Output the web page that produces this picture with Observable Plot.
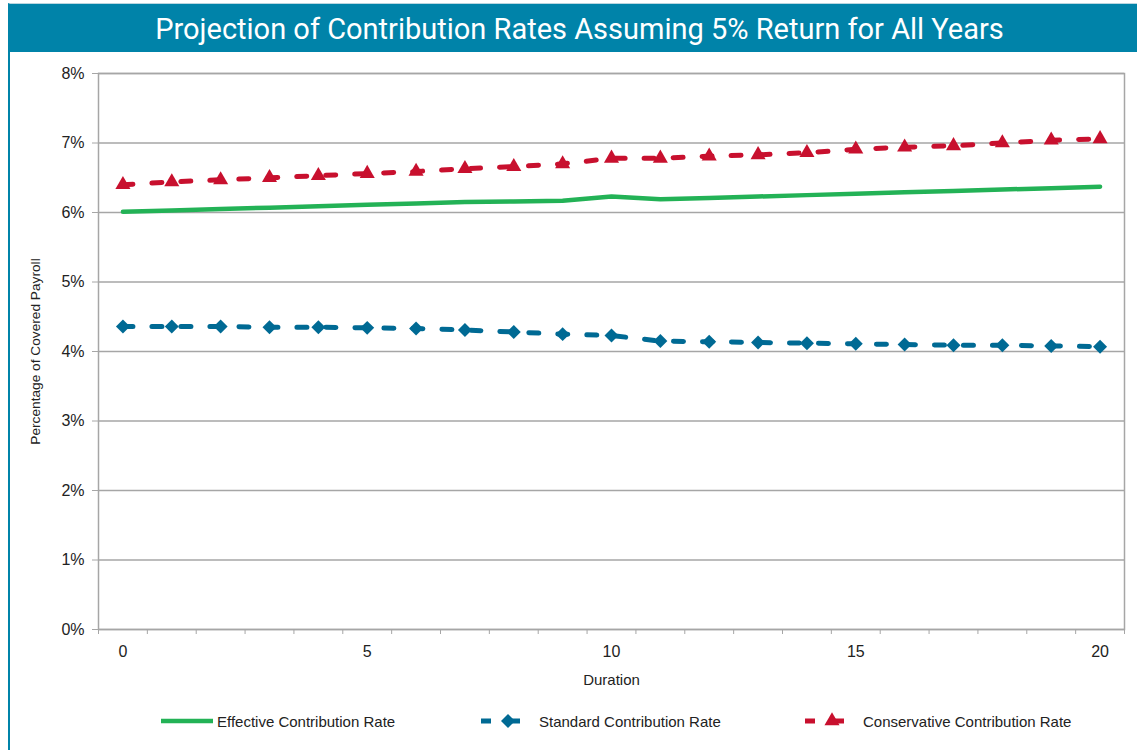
<!DOCTYPE html>
<html><head><meta charset="utf-8">
<script src="https://cdn.jsdelivr.net/npm/d3@7"></script>
<script src="https://cdn.jsdelivr.net/npm/@observablehq/plot@0.6"></script>
<style>
body{margin:0;background:#fff;width:1137px;height:750px;overflow:hidden;position:relative;font-family:"Liberation Sans Narrow","Arial Narrow","Liberation Sans",sans-serif;}
#frame{position:absolute;left:8px;top:3px;width:1129px;height:747px;border-left:2px solid #0083a9;border-top:1px solid #b9d6e0;box-sizing:border-box;}
#title{position:absolute;left:8px;top:4px;width:1129px;height:48px;background:#0083a9;color:#fff;font:400 29px Roboto;letter-spacing:0px;text-align:center;line-height:50px;padding-left:14px;box-sizing:border-box;}
#chart{position:absolute;left:0;top:52px;}
#legend{position:absolute;left:0;top:700px;width:1137px;height:50px;font-size:15px;color:#222;}
.item{position:absolute;top:10px;height:22px;display:flex;align-items:center;white-space:nowrap;}
</style></head>
<body>
<div id="frame"></div>
<div id="title">Projection of Contribution Rates Assuming 5% Return for All Years</div>
<div id="chart"></div>
<div id="legend"></div>
<script>
const durations = d3.range(0, 21);
const effective = [6.01,6.03,6.05,6.07,6.09,6.11,6.13,6.15,6.16,6.17,6.23,6.19,6.21,6.23,6.25,6.27,6.29,6.31,6.33,6.35,6.37];
const standard = [4.36,4.36,4.36,4.35,4.35,4.34,4.33,4.31,4.28,4.25,4.23,4.15,4.14,4.13,4.12,4.11,4.10,4.09,4.09,4.08,4.07];
const conservative = [6.40,6.44,6.47,6.50,6.53,6.56,6.59,6.63,6.66,6.70,6.78,6.78,6.81,6.83,6.86,6.91,6.94,6.96,7.00,7.04,7.06];
const seriesNames = ["Effective Contribution Rate","Standard Contribution Rate","Conservative Contribution Rate"];
const seriesColors = ["#23b256","#006a94","#c8102e"];
const yTicks = [0,1,2,3,4,5,6,7,8];
const xTickLabels = [0,5,10,15,20];

const rows = [];
[effective, standard, conservative].forEach((arr, k) => {
  durations.forEach((d, i) => rows.push({dur: d, v: arr[i], s: seriesNames[k]}));
});
const of = name => rows.filter(r => r.s === name);
const fontStack = '"Liberation Sans Narrow","Arial Narrow","Liberation Sans",sans-serif';

const chart = Plot.plot({
  width: 1137, height: 648,
  marginLeft: 98, marginRight: 13, marginTop: 21, marginBottom: 71,
  x: {domain: [-0.5, 20.5]},
  y: {domain: [0, 8]},
  color: {domain: seriesNames, range: seriesColors},
  style: {fontFamily: fontStack, fontSize: "16px", color: "#222", background: "transparent"},
  marks: [
    Plot.gridY(yTicks, {stroke: "#a6a6a6", strokeOpacity: 1, strokeWidth: 1.3}),
    Plot.frame({stroke: "#a6a6a6", strokeWidth: 1.5}),
    Plot.axisY(yTicks, {tickSize: 6, tickPadding: 8, tickFormat: d => d + "%", stroke: "#a6a6a6", strokeOpacity: 1, label: null}),
    Plot.axisY(yTicks, {tickSize: 0, tickFormat: () => "", label: "Percentage of Covered Payroll", labelAnchor: "center", labelArrow: "none", labelOffset: 68, fontSize: 13.7}),
    Plot.axisX(d3.range(-0.5, 21, 1), {tickSize: 5, tickFormat: () => "", stroke: "#a6a6a6", strokeOpacity: 1, label: null}),
    Plot.axisX(xTickLabels, {tickSize: 0, tickPadding: 16, label: null}),
    Plot.axisX(xTickLabels, {tickSize: 0, tickFormat: () => "", label: "Duration", labelAnchor: "center", labelArrow: "none", labelOffset: 55, fontSize: 15}),
    Plot.line(of(seriesNames[0]), {x: "dur", y: "v", stroke: "s", strokeWidth: 4.5}),
    Plot.line(of(seriesNames[1]), {x: "dur", y: "v", stroke: "s", strokeWidth: 5, strokeDasharray: "10,19"}),
    Plot.dot(of(seriesNames[1]), {x: "dur", y: "v", fill: "s", stroke: null, symbol: "diamond2", r: 6.3}),
    Plot.line(of(seriesNames[2]), {x: "dur", y: "v", stroke: "s", strokeWidth: 5, strokeDasharray: "10,19"}),
    Plot.dot(of(seriesNames[2]), {x: "dur", y: "v", fill: "s", stroke: null, symbol: "triangle", r: 5.6})
  ]
});
document.getElementById("chart").appendChild(chart);

// legend
const legend = document.getElementById("legend");
const legendX = [161, 481, 805];
const legendSym = [null, d3.symbolDiamond2, d3.symbolTriangle];
const legendSize = [0, Math.PI * 6.3 * 6.3, Math.PI * 5.6 * 5.6];
seriesNames.forEach((name, k) => {
  const item = document.createElement("div");
  item.className = "item";
  item.style.left = legendX[k] + "px";
  const w = k === 0 ? 52 : 46;
  const svg = d3.create("svg").attr("width", w).attr("height", 22);
  svg.append("line").attr("x1", 0).attr("x2", w).attr("y1", 11).attr("y2", 11)
    .attr("stroke", seriesColors[k]).attr("stroke-width", k === 0 ? 4.5 : 5)
    .attr("stroke-dasharray", k === 0 ? null : "10,19");
  if (legendSym[k]) svg.append("path").attr("transform", `translate(${w/2 + 4},11)`)
    .attr("d", d3.symbol(legendSym[k], legendSize[k])()).attr("fill", seriesColors[k]);
  item.appendChild(svg.node());
  const t = document.createElement("span");
  t.textContent = name;
  t.style.marginLeft = k === 0 ? "4px" : "12px";
  item.appendChild(t);
  legend.appendChild(item);
});
</script>
</body></html>
